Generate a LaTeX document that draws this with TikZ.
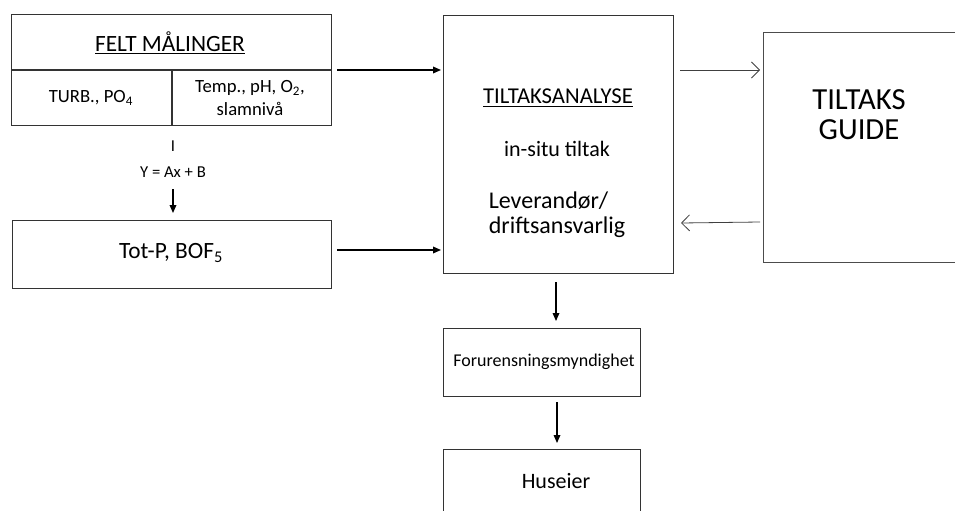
\documentclass[tikz,border=0pt]{standalone}
\usepackage{fontspec}
\setmainfont{Carlito}
\usetikzlibrary{arrows.meta}
\newcommand{\fsz}[1]{\fontsize{#1}{1.2\dimexpr#1\relax}\selectfont}
\newcommand{\fszb}[2]{\fontsize{#1}{#2}\selectfont}
\begin{document}
\begin{tikzpicture}[x=0.75pt,y=-0.75pt,
  box/.style={draw=black!80,line width=1.1pt,rectangle,inner sep=0pt,anchor=north west},
  fill arrow/.style={-{Triangle[length=6pt,width=5pt]},line width=0.9pt},
  open arrow/.style={-{Straight Barb[length=6pt,width=12pt]},line width=0.6pt,draw=black!75}]
\useasboundingbox (0,0) rectangle (955,510);
\clip (0,0) rectangle (955,510);
% Felt box
\node[box,minimum width=320*0.75pt,minimum height=111*0.75pt] (felt) at (11,14) {};
\draw[black!80,line width=1.1pt] (11,70) -- (331,70);
\draw[black!80,line width=1.1pt] (172,70) -- (172,125);
\node[font=\fsz{17.5pt}] (feltt) at (170,43) {\underline{FELT MÅLINGER}};
\node[font=\fsz{14pt}] (turb) at (91,98) {TURB., PO\textsubscript{4}};
\node[align=center,font=\fsz{14pt}] (temp) at (250,98) {Temp., pH, O\textsubscript{2},\\slamnivå};
% formula
\node[font=\fsz{12.5pt}] (bar) at (173,146) {I};
\node[font=\fsz{12.5pt}] (formel) at (173,172) {Y = Ax + B};
\coordinate (fa) at (173,189);
\coordinate (fb) at (173,213);
\draw[fill arrow] (fa) -- (fb);
% Tot-P box
\node[box,minimum width=319*0.75pt,minimum height=68*0.75pt] (totp) at (12,220) {};
\node[font=\fsz{17.5pt}] (totpt) at (171,253) {Tot-P, BOF\textsubscript{5}};
% Tiltaksanalyse
\node[box,minimum width=230*0.75pt,minimum height=258*0.75pt] (ta) at (443,15) {};
\node[font=\fsz{17pt}] (tat) at (558,98) {\underline{TILTAKSANALYSE}};
\node[font=\fsz{16.5pt}] (insitu) at (557,149) {in-situ tiltak};
\node[align=left,font=\fszb{18pt}{18.5pt}] (lev) at (557,215) {Leverandør/\\driftsansvarlig};
% Guide
\node[draw=black!70,line width=0.6pt,rectangle,anchor=north west,minimum width=192*0.75pt,minimum height=230*0.75pt] (guide) at (763,32) {};
\node[align=center,font=\fszb{23pt}{22.5pt}] (guidet) at (859,115) {TILTAKS\\GUIDE};
% Forurensning
\node[box,minimum width=197*0.75pt,minimum height=68*0.75pt] (for) at (443,328) {};
\node[font=\fsz{13.5pt}] (fort) at (544,362) {Forurensningsmyndighet};
% Huseier
\node[box,minimum width=197*0.75pt,minimum height=80*0.75pt] (hus) at (443,449) {};
\node[font=\fsz{16.5pt}] (hust) at (556,481) {Huseier};
% arrows
\coordinate (a1s) at (337,70);
\coordinate (a1e) at (441,70);
\draw[fill arrow] (a1s) -- (a1e);
\coordinate (a2s) at (337,250);
\coordinate (a2e) at (441,250);
\draw[fill arrow] (a2s) -- (a2e);
\coordinate (a3s) at (680,70);
\coordinate (a3e) at (760,70);
\draw[open arrow] (a3s) -- (a3e);
\coordinate (a4s) at (760,222);
\coordinate (a4e) at (681,223);
\draw[open arrow] (a4s) -- (a4e);
\coordinate (a5s) at (556,282);
\coordinate (a5e) at (556,321);
\draw[fill arrow] (a5s) -- (a5e);
\coordinate (a6s) at (557,402);
\coordinate (a6e) at (557,443);
\draw[fill arrow] (a6s) -- (a6e);
\end{tikzpicture}
\end{document}
